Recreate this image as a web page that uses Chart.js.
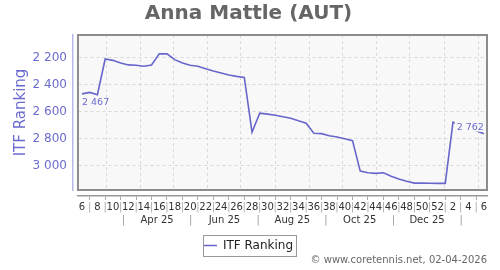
<!DOCTYPE html>
<html><head><meta charset="utf-8">
<script src="https://cdn.jsdelivr.net/npm/chart.js@4/dist/chart.umd.min.js"></script>
<style>html,body{margin:0;padding:0;background:#fff}</style>
</head><body>
<canvas id="c" width="500" height="270"></canvas>
<script>
// ---- data ----
const chartTitle = 'Anna Mattle (AUT)';
const seriesName = 'ITF Ranking';
const credit = '\u00A9 www.coretennis.net, 02-04-2026';
const firstWeekDate = '2025-02-07';
const weekNumbers = [6,7,8,9,10,11,12,13,14,15,16,17,18,19,20,21,22,23,24,25,26,27,28,29,30,31,32,33,34,35,36,37,38,39,40,41,42,43,44,45,46,47,48,49,50,51,52,1,2,3,4,5,6];
const ranking = [2467,2456,2473,2208,2218,2237,2252,2255,2262,2252,
                 2170,2170,2213,2237,2255,2262,2280,2297,2312,2327,
                 2337,2345,2751,2610,2617,2626,2636,2648,2667,2684,
                 2759,2762,2777,2787,2800,2814,3040,3052,3057,3052,
                 3078,3098,3115,3129,3129,3130,3131,3131,2677,2700,
                 2720,2740,2762];
const yTicks = [2200,2400,2600,2800,3000];
const gridMonths = ['2025-03','2025-04','2025-05','2025-06','2025-07','2025-08','2025-09','2025-10','2025-11','2025-12','2026-01','2026-02'];
const labelMonths = ['2025-03','2025-04','2025-05','2025-06','2025-07','2025-08','2025-09','2025-10','2025-11','2025-12','2026-01'];
const monthLabels = ['','Apr 25','','Jun 25','','Aug 25','','Oct 25','','Dec 25',''];

// ---- helpers ----
const DAY = 86400000;
const base = Date.parse(firstWeekDate + 'T00:00:00Z');
const ym = s => { const [y,m] = s.split('-').map(Number); return Date.UTC(y, m-1, 1); };
const nextMonth = s => { const [y,m] = s.split('-').map(Number); return Date.UTC(y, m, 1); };
const toWeeks = t => (t - base) / (7*DAY);
const gridPos = gridMonths.map(s => toWeeks(ym(s)));
const labelPos = labelMonths.map(s => toWeeks((ym(s) + nextMonth(s)) / 2));
const fmt = v => { const s = String(v); return s.length > 3 ? s.slice(0, s.length-3) + ' ' + s.slice(-3) : s; };

const BLUE = '#6666cc';
const TXTBLUE = '#6b6bcf';
const PLOTBG = '#f8f8f8';
const X_MIN = -0.52, X_MAX = 52.4;
const Y_MIN = 2030, Y_MAX = 3180;

Chart.defaults.font.family = 'DejaVu Sans';

const plotDeco = {
  id: 'plotDeco',
  beforeDraw(chart) {
    const a = chart.chartArea, ctx = chart.ctx;
    ctx.save(); ctx.fillStyle = PLOTBG;
    ctx.fillRect(a.left, a.top, a.right - a.left, a.bottom - a.top);
    ctx.restore();
  },
  beforeDatasetsDraw(chart) {
    const a = chart.chartArea, ctx = chart.ctx;
    ctx.save(); ctx.strokeStyle = '#8c8c8c'; ctx.lineWidth = 2;
    ctx.strokeRect(a.left, a.top, a.right - a.left, a.bottom - a.top);
    ctx.restore();
  },
  afterDatasetsDraw(chart) {
    const meta = chart.getDatasetMeta(0), ctx = chart.ctx;
    const p0 = meta.data[0], pn = meta.data[meta.data.length - 1];
    ctx.save();
    ctx.font = '9.5px "DejaVu Sans"';
    ctx.fillStyle = TXTBLUE; ctx.textAlign = 'left'; ctx.textBaseline = 'top';
    ctx.fillText(fmt(ranking[0]), p0.x, p0.y + 4);
    const t = fmt(ranking[ranking.length - 1]);
    const w = ctx.measureText(t).width;
    ctx.fillStyle = PLOTBG;
    ctx.fillRect(pn.x - w - 2, pn.y - 16, w + 3, 14);
    ctx.fillStyle = TXTBLUE; ctx.textAlign = 'right'; ctx.textBaseline = 'alphabetic';
    ctx.fillText(t, pn.x, pn.y - 4);
    ctx.restore();
  },
  afterDraw(chart) {
    const lg = chart.legend, ctx = chart.ctx;
    if (lg && lg.legendHitBoxes && lg.legendHitBoxes.length) {
      const hb = lg.legendHitBoxes[0];
      ctx.save(); ctx.strokeStyle = '#999'; ctx.lineWidth = 1;
      ctx.strokeRect(Math.round(hb.left - 1) + 0.5, Math.round(hb.top - 4.5) + 0.5, Math.round(hb.width + 4), 21);
      ctx.restore();
    }
  }
};

new Chart(document.getElementById('c'), {
  type: 'line',
  data: {
    datasets: [{
      label: seriesName,
      data: ranking.map((v, i) => ({ x: i, y: v })),
      borderColor: BLUE, backgroundColor: BLUE, borderWidth: 1.6,
      pointRadius: 0, fill: false, tension: 0,
      xAxisID: 'x', yAxisID: 'y'
    }]
  },
  options: {
    responsive: false, animation: false, devicePixelRatio: 1,
    layout: { padding: { left: 10, right: 13, top: 0, bottom: 0 } },
    plugins: {
      title: { display: true, text: chartTitle, color: '#666', font: { size: 20, weight: 'bold' }, padding: { top: 2, bottom: 9 } },
      subtitle: { display: true, text: credit, position: 'bottom', align: 'end', color: '#666', font: { size: 10 }, padding: { top: -7.5, bottom: 4 } },
      legend: { position: 'bottom', labels: { usePointStyle: true, pointStyle: 'line', pointStyleWidth: 13, color: '#222', font: { size: 12 }, padding: 13.5 } },
      tooltip: { enabled: false }
    },
    scales: {
      x: {
        type: 'linear', position: 'bottom', min: X_MIN, max: X_MAX, weight: 1,
        afterBuildTicks: s => { s.ticks = weekNumbers.map((_, i) => ({ value: i })); },
        ticks: { autoSkip: false, maxRotation: 0, minRotation: 0, padding: 1, font: { size: 10 },
                 color: c => (c.index % 2 ? '#aaa' : '#333'),
                 callback: (v, i) => (i % 2 ? '|' : String(weekNumbers[i])) },
        grid: { drawOnChartArea: false, drawTicks: true, tickLength: 4, color: c => (c.index % 2 ? '#aaa' : 'rgba(0,0,0,0)') },
        border: { display: true, color: '#999', width: 1.5 }
      },
      xg: {
        type: 'linear', position: 'bottom', min: X_MIN, max: X_MAX, weight: 0,
        afterBuildTicks: s => { s.ticks = gridPos.map(v => ({ value: v })); },
        afterFit: s => { s.height = 6; },
        ticks: { display: false },
        grid: { color: '#d9d9d9', drawTicks: false, lineWidth: 1 },
        border: { display: false, dash: [3, 3] }
      },
      xm: {
        type: 'linear', position: 'bottom', min: X_MIN, max: X_MAX, weight: 2,
        afterBuildTicks: s => { s.ticks = labelPos.map(v => ({ value: v })); },
        ticks: { autoSkip: false, maxRotation: 0, minRotation: 0, padding: 0, font: { size: 10 },
                 color: c => (monthLabels[c.index] ? '#333' : '#999'),
                 callback: (v, i) => (monthLabels[i] || '|') },
        grid: { display: false, drawTicks: false },
        border: { display: false }
      },
      y: {
        type: 'linear', position: 'left', reverse: true, min: Y_MIN, max: Y_MAX, weight: 1,
        afterBuildTicks: s => { s.ticks = yTicks.map(v => ({ value: v })); },
        ticks: { font: { size: 12 }, color: TXTBLUE, padding: 6, callback: v => fmt(v) },
        grid: { color: '#d9d9d9', drawTicks: false },
        border: { display: true, color: '#b8b8e8', width: 1.5, dash: [3, 3] },
        title: { display: true, text: seriesName, color: TXTBLUE, font: { size: 15 }, padding: { top: 2, bottom: -3.4 } }
      },
      yg: {
        type: 'linear', position: 'left', reverse: true, min: Y_MIN, max: Y_MAX, weight: 0,
        afterFit: s => { s.width = 5; },
        ticks: { display: false },
        grid: { display: false },
        border: { display: false }
      }
    }
  },
  plugins: [plotDeco]
});
</script>
</body></html>
